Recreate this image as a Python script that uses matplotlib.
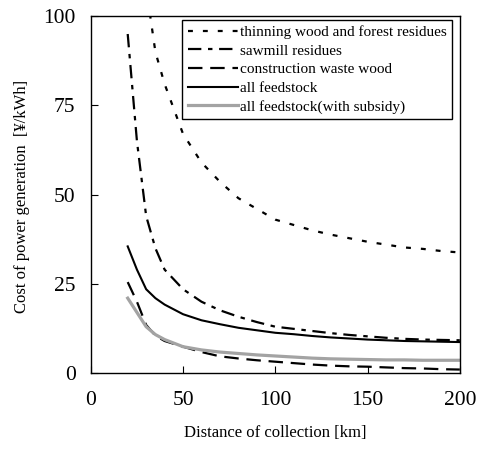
import numpy as np
import matplotlib.pyplot as plt

plt.rcParams['font.family'] = ['Liberation Serif', 'DejaVu Serif']

# distance of collection [km]
distance = [20, 25, 30, 35, 40, 50, 60, 70, 80, 90, 100,
            110, 120, 130, 140, 150, 160, 170, 180, 190, 200]

# cost of power generation [yen/kWh]
thinning = [np.nan, np.nan, 108, 90, 81, 67, 59, 53.6, 49, 46, 43,
            41.5, 40, 38.8, 37.8, 36.8, 36, 35.2, 34.8, 34.2, 33.8]
sawmill = [95, 65, 44, 35, 29, 23.5, 20, 17.6, 15.8, 14.3, 13,
           12.4, 11.8, 11.2, 10.7, 10.3, 9.9, 9.6, 9.4, 9.3, 9.2]
construction = [25.5, 20, 13.5, 10.5, 9, 7.4, 5.9, 4.7, 4.1, 3.6, 3.2,
                2.8, 2.4, 2.1, 1.9, 1.8, 1.6, 1.4, 1.3, 1.1, 1.0]
all_feed = [35.5, 29, 23.5, 21, 19.2, 16.5, 14.8, 13.7, 12.7, 12, 11.3,
            10.9, 10.4, 10, 9.7, 9.4, 9.2, 9.0, 8.9, 8.8, 8.7]
subsidy = [21, 17, 13, 10.8, 9.4, 7.4, 6.5, 5.9, 5.5, 5.1, 4.8,
           4.5, 4.2, 4.0, 3.9, 3.8, 3.7, 3.7, 3.6, 3.6, 3.6]

fig = plt.figure(figsize=(4.83, 4.49), dpi=100)
ax = fig.add_axes([0.188, 0.169, 0.764, 0.795])

ax.plot(distance, thinning, color='black', lw=1.6, linestyle=(0, (2.2, 4.5)),
        label='thinning wood and forest residues')
ax.plot(distance, sawmill, color='black', lw=1.6, linestyle=(0, (6, 3, 2, 3)),
        label='sawmill residues')
ax.plot(distance, construction, color='black', lw=1.6, linestyle=(0, (6.5, 3.5)),
        label='construction waste wood')
ax.plot(distance, all_feed, color='black', lw=1.5, label='all feedstock')
ax.plot(distance, subsidy, color='#a3a3a3', lw=2.3,
        label='all feedstock(with subsidy)')

ax.set_xlim(0, 200)
ax.set_ylim(0, 100)
ax.set_xticks([0, 50, 100, 150, 200])
ax.set_yticks([0, 25, 50, 75, 100])
ax.tick_params(direction='in', length=5, width=0.8, labelsize=15.5)
ax.tick_params(axis='x', pad=13)
ax.tick_params(axis='y', pad=11)
for s in ax.spines.values():
    s.set_linewidth(1.0)

ax.set_xlabel('Distance of collection [km]', fontsize=12, labelpad=11)
ax.set_ylabel('Cost of power generation  [¥/kWh]', fontsize=12)
ax.yaxis.set_label_coords(-0.165, 0.496)

leg = ax.legend(loc='upper right', bbox_to_anchor=(0.978, 0.989), borderaxespad=0,
                fontsize=11, handlelength=3.3, handletextpad=0.1, labelspacing=0.32,
                fancybox=False, framealpha=1, edgecolor='black', borderpad=0.35)
leg.get_frame().set_linewidth(1.0)

fig.savefig('out.png', dpi=100)
